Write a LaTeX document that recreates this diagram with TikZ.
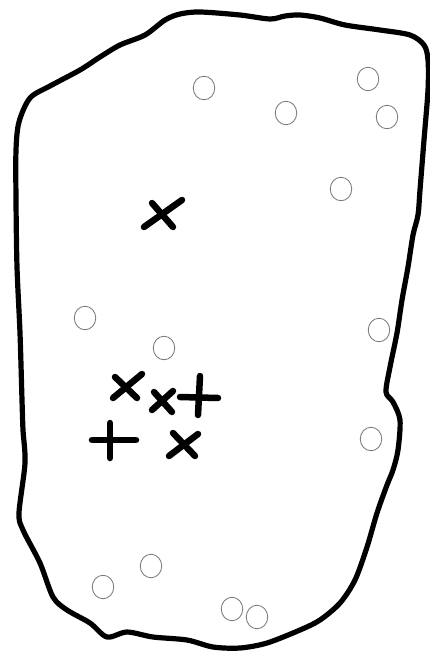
\documentclass[tikz,border=0pt]{standalone}
\usetikzlibrary{shapes.geometric}
\begin{document}
\begin{tikzpicture}[x=1pt,y=-1pt,
  outline/.style={line width=5.2pt,line join=round},
  markstroke/.style={line width=6.5pt,line cap=round},
  dot/.style={draw=black!55,line width=0.8pt,ellipse,minimum width=21.5pt,minimum height=23.5pt,inner sep=0pt}]
\useasboundingbox (0,0) rectangle (429,653);
\fill[white] (0,0) rectangle (429,653);
\draw[outline] plot[smooth cycle, tension=0.5] coordinates {
(180,14) (200,12) (240,15) (270,19) (285,16) (300,15) (320,18) (345,25) (380,30) (410,35) (424,45) (428,60) (428,90) (424,140) (420,190) (418,215) (413,235) (408,267) (402,300) (397,333) (390,367) (386,392) (393,402) (400,420) (398,450) (393,470) (387,485) (377,513) (367,547) (355,580) (340,603) (320,620) (300,630) (267,643) (240,648) (213,647) (187,640) (153,637) (127,632) (107,637) (90,623) (67,610) (53,597) (40,563) (23,530) (19,513) (25,463) (23,430) (22,400) (20,333) (17,267) (16,200) (16,150) (19,122) (30,98) (50,86) (80,70) (100,57) (120,45) (145,35) (165,20)};
% circles
\foreach \n/\x/\y in {a/204/88, b/286/113, c/368/79, d/387/117, e/341/189, f/85/318, g/164/348, h/379/330, i/371/439, j/151/566, k/103/587, l/232/609, m/257/617}
  \node[dot] (c\n) at (\x,\y) {};
% marks
\draw[markstroke] (144,227) -- (182,200);
\draw[markstroke] (152,203) -- (173,227);
\draw[markstroke] (113,398) -- (142,374);
\draw[markstroke] (115,377) -- (137,398);
\draw[markstroke] (152,410) -- (173,391);
\draw[markstroke] (154,392) -- (172,412);
\draw[markstroke] (200,376) -- (198,415);
\draw[markstroke] (180,397) -- (218,398);
\draw[markstroke] (110,423) -- (110,458);
\draw[markstroke] (92,440) -- (136,440);
\draw[markstroke] (169,456) -- (198,434);
\draw[markstroke] (173,433) -- (195,456);
\end{tikzpicture}
\end{document}
